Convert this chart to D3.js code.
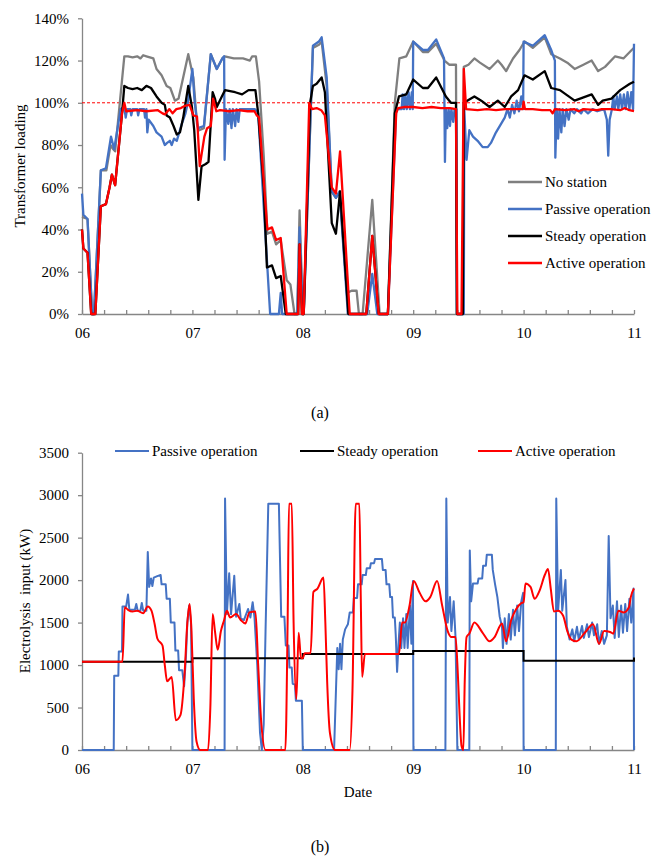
<!DOCTYPE html>
<html>
<head>
<meta charset="utf-8">
<script src="https://cdn.jsdelivr.net/npm/d3@7"></script>
<style>
  body { margin: 0; background: #fff; }
  text { font-family: "Liberation Serif", "Times New Roman", serif; fill: #000; }
</style>
</head>
<body>
<svg id="chart" width="664" height="858"></svg>
<script>
// x values are hours counted from day 06 00:00

var dayLabels = ["06", "07", "08", "09", "10", "11"]
var loadTicks = [0, 20, 40, 60, 80, 100, 120, 140]
var inputTicks = [0, 500, 1000, 1500, 2000, 2500, 3000, 3500]
var loadNames = ["No station", "Passive operation", "Steady operation", "Active operation"]
var inputNames = ["Passive operation", "Steady operation", "Active operation"]

// (a) transformer loading, %
var loadNoStation = [[0,46],[1.2,45],[2.2,0],[2.6,0],[4.1,68],[5.3,68],[6.2,80],[6.8,78],[7.2,77],[9.2,122],[10,122],[11,121.5],[12,122],[12.7,121],[13.3,122.5],[14,122],[15.5,121],[16.2,116],[17.3,113],[18.4,108],[19.2,107],[20.2,101],[21,102],[23.1,123],[24.2,112],[25,90],[25.5,87],[26.5,88],[28,123],[29.3,116],[30.5,121],[31,122],[33,121],[35,121],[36.5,120],[37,122],[37.8,122],[38.5,110],[39.5,75],[40.3,38],[41.3,39],[42.2,33],[43.2,35],[44.5,16],[45.3,14],[46.2,0],[46.8,0],[47.3,49],[48,0],[48.2,0],[50.2,126],[51.5,127.5],[52.1,129],[53.2,108],[54.3,58],[55.2,55],[56,58],[57.6,10],[58.6,11],[59.7,11],[60.2,0],[61,0],[63.1,54],[64.7,0],[66.5,0],[68,100],[69,121],[70.5,122],[72,129],[74.1,124],[75.2,124],[77,128],[78.8,120],[79.9,118],[81.3,118],[81.5,0],[82.8,0],[83,117],[84,118],[85.3,121],[86.5,119],[88.6,116],[90.4,120],[91.2,118],[92.2,115],[93.7,121],[95.1,125],[96.2,129],[98,126],[100.6,131],[102,123],[103.9,121],[105.5,119],[107.1,116],[109,118],[110.8,120],[112.2,115],[113.7,117],[115.9,122],[117.7,121],[119.5,125],[120,126]]

var loadPassive = [[0,57],[0.3,47],[1.2,45],[2.2,0],[2.6,0],[4.1,68],[5.2,69],[6.3,84],[7,78],[8.4,97],[9.2,98],[9.5,93],[9.8,97],[10.5,97],[10.7,94],[11,97],[12,97],[12.2,94],[12.5,97],[13.5,97],[13.7,93],[14,97],[14.2,86],[14.5,92],[15.5,89],[16.2,86],[17.3,84],[18,80],[18.5,81],[19.1,82],[19.5,80],[20,83],[20.6,82],[21.7,90],[22.5,95],[23,100],[24,116],[24.5,100],[25.2,88],[26.5,89],[28,123],[29.3,116],[30.5,121],[30.9,122],[31,73],[31.3,97],[31.8,90],[32.1,97],[32.5,88],[32.8,97],[33.3,89],[33.6,97],[34,91],[34.3,97],[37.6,97],[38.3,95],[40.9,0],[42.8,0],[43.2,10],[43.5,0],[46.8,0],[47.3,41],[48,0],[48.2,0],[50.2,127],[51.5,129],[52.1,131],[53.2,112],[54.3,58],[55.2,55],[56,58],[57.8,0],[62,0],[63.1,19],[64.2,0],[66.5,0],[68.3,97],[69.5,97],[69.7,104],[70,97],[70.3,104],[70.6,97],[71,105],[71.3,97],[71.7,105],[71.9,97],[72,129],[74.1,125],[75.2,125],[77,130],[78.7,121],[78.9,72],[79.1,97],[79.4,88],[79.7,97],[80,89],[80.3,97],[80.7,91],[81,97],[81.4,97],[81.5,0],[83,0],[83.1,97],[83.6,73],[84.2,87],[85,84],[86,82],[87.1,79],[88.2,79],[88.9,81],[90,86],[91.1,90],[91.9,93],[92.5,97],[93,93],[93.5,99],[94,95],[94.5,101],[95,96],[95.5,103],[95.9,97],[96,129],[98,127],[100.6,132],[102,125],[102.8,120],[102.9,74],[103.2,97],[103.5,83],[103.8,97],[104.2,86],[104.5,97],[104.9,89],[105.3,97],[105.8,92],[106.2,97],[107,95],[107.6,97],[108.5,95],[109,97],[110,95],[111,97],[112,96],[113.5,97],[114.1,92],[114.4,75],[114.7,92],[115.2,97],[115.5,103],[115.8,97],[116.3,103],[116.6,97],[117,104],[117.4,97],[117.8,104],[118.2,97],[118.6,105],[119,97],[119.4,105],[119.8,97],[120,128]]

var loadSteady = [[0,40],[0.3,31],[1.2,29],[2,0],[2.9,0],[4.1,51],[5.2,52],[6,60],[6.5,66],[7.2,61],[8.7,95],[9.2,108],[10,107],[11,106.5],[12,107],[13,106],[14,108],[15,107],[16.2,103],[17.3,100],[18,99],[18.4,94],[19.1,93],[19.9,89],[20.6,85],[21.3,86],[22,93],[23.1,108],[23.9,98],[24.4,87],[25.3,54],[26,70],[26.9,71],[27.5,72],[28.4,105],[28.9,102],[29.3,98],[30.4,103],[31.1,106],[33.3,105],[34.8,104],[36.2,106],[37.7,106],[38.3,95],[39.5,60],[40.2,22],[41.3,23],[42.2,17],[43.2,18],[44.3,0],[47,0],[47.3,33],[47.8,0],[48.2,0],[49.6,100],[50.2,108],[51,109],[52.1,112],[52.8,105],[54.3,43],[55.2,38],[56.1,58],[57.9,0],[61.8,0],[63.1,37],[64.5,0],[66.5,0],[68,95],[68.9,103],[70.5,104],[72,111],[74.1,107],[75.2,107],[77,112],[79.1,103],[80.2,100],[81.3,100],[81.5,0],[82.8,0],[83,100],[85.3,103],[86.8,101],[88.6,98],[90.4,101],[91.9,98],[93.3,103],[94.8,106],[96.2,113],[98,111],[100.6,115],[102,107],[103.9,106],[107.1,101],[110.8,104],[112.2,99],[113.2,101],[115.1,102],[117,106],[119.1,109],[120,110]]

var loadActive = [[0,40],[0.3,31],[1.2,29],[2,0],[2.9,0],[4.1,51],[5.2,52],[6,60],[6.5,66],[7.2,61],[8.7,95],[9.2,100],[9.6,96],[12,96.5],[14,96],[16.5,96.5],[17.5,95],[18,94.5],[19,97],[19.7,95],[20.5,97],[21.5,97.5],[22.3,98.5],[23.4,99],[24.2,94],[25,93.5],[25.6,70],[26.6,84],[27.2,88],[28,89],[28.5,102],[29.2,96],[30,96.5],[32,96],[34,96.5],[36,96],[37.5,96],[38,94],[38.5,93],[40.3,40],[41.3,41],[42.2,35],[43.2,36],[44.5,0],[47,0],[47.3,33],[47.8,0],[48.2,0],[49.4,100],[50,97],[51,97.5],[52,96.5],[52.8,94],[54.3,60],[55.2,57],[56.1,77],[58.2,0],[61.8,0],[63.1,37],[64.5,0],[66.5,0],[68.3,95],[68.7,97.5],[70,98],[72,98],[74,97.5],[76,98],[78,97.5],[80,97.5],[81.3,97],[81.6,0],[82.5,0],[83,116],[83.5,97],[86,96.5],[88,97],[90,96.5],[92,97],[94,97],[95.8,97],[96,100.5],[96.3,97],[98,97],[100,96.5],[101.8,96.5],[102.3,95],[102.8,97],[105,96.5],[107,97],[108,96],[109,97],[112,96.5],[113,97],[115,97],[117,96.5],[118,97.5],[119,96.5],[120,96]]

// (b) electrolysis input, kW
var inputPassive = [[0,0],[6.9,0],[7,875],[7.9,875],[8,1160],[8.7,1160],[8.8,1690],[9.6,1690],[10,1830],[10.3,1650],[11.5,1650],[11.8,1720],[12.1,1640],[12.7,1640],[13,1730],[13.3,1640],[14,1640],[14.3,2330],[14.6,1920],[15,2020],[15.3,1930],[15.6,2030],[16.5,2050],[17.1,2060],[17.3,1950],[18.2,1950],[18.4,1780],[19.1,1780],[19.3,1500],[20.1,1500],[20.3,1170],[20.9,1170],[21.1,940],[21.8,940],[22.2,750],[22.6,1100],[22.9,1500],[23.3,1700],[23.7,1500],[24,0],[31,0],[31.1,2960],[31.5,1600],[32,2080],[32.4,1600],[33.1,2050],[33.5,1570],[34.2,1720],[34.5,1550],[35.2,1530],[36.1,1660],[36.6,1560],[37.1,1740],[37.5,1560],[38.1,1000],[38.7,200],[39.1,0],[39.5,300],[39.9,1400],[40.5,2900],[42.8,2900],[43.3,1570],[44,1570],[44.3,1230],[44.9,1230],[45.1,970],[45.6,970],[45.8,780],[46.3,770],[46.5,580],[47.8,580],[48,0],[54.8,0],[55.5,1200],[55.8,950],[56.1,1250],[56.4,950],[56.7,1300],[57.2,1420],[57.8,1480],[58.2,1620],[58.9,1620],[59.1,1790],[59.8,1790],[60,1950],[60.8,1950],[61,2060],[61.7,2060],[61.9,2140],[62.6,2140],[62.8,2200],[63.5,2200],[63.7,2250],[65.2,2250],[65.4,2120],[66,2120],[66.2,1950],[66.8,1950],[67,1800],[67.4,1800],[67.6,1560],[68,1560],[68.2,1360],[68.5,920],[68.8,1240],[69.1,1500],[69.4,1200],[69.8,1550],[70.1,1200],[70.5,1600],[70.8,1200],[71.3,1700],[71.6,1250],[71.95,1990],[72.05,0],[79,0],[79.2,2960],[79.5,1500],[80,1800],[80.3,1400],[80.8,1750],[81.2,1330],[81.6,0],[84.2,0],[84.3,2350],[84.6,1750],[85,1960],[86,1960],[86.2,2020],[87,2020],[87.2,2170],[87.8,2170],[88,2300],[89.1,2300],[89.3,2120],[89.8,1950],[90.3,1800],[90.8,1570],[91.3,1450],[91.5,1200],[91.9,1550],[92.3,1250],[92.8,1600],[93.2,1300],[93.7,1650],[94.1,1350],[94.6,1700],[95,1400],[95.5,1750],[95.9,1850],[96,0],[103,0],[103.1,2960],[103.5,1640],[104.1,2120],[104.4,1640],[105.1,2000],[105.4,1450],[106,1300],[106.6,1420],[107,1280],[107.6,1450],[108,1300],[108.7,1460],[109.1,1320],[109.8,1480],[110.2,1330],[110.9,1500],[111.3,1350],[112,1480],[112.4,1250],[113,1400],[113.5,1250],[114.1,1350],[114.5,2520],[114.9,1550],[115.4,1700],[115.8,1320],[116.3,1750],[116.7,1330],[117.2,1700],[117.6,1380],[118.1,1720],[118.5,1400],[119,1780],[119.4,1500],[119.9,1900],[120,0]]

var inputSteadyDaily = [1040, 1080, 1130, 1165, 1050]
var inputSteadyLast = 1090

var inputActive = [[0,1040],[8.8,1040],[9.3,1680],[10,1650],[11,1630],[12,1640],[13.3,1610],[14.3,1690],[15.1,1640],[15.8,1480],[16.4,1310],[17.5,1230],[18,1000],[18.5,810],[19.5,860],[20.4,350],[21.4,410],[22.3,900],[22.9,1500],[23.4,1720],[23.8,1400],[24.3,600],[24.9,100],[25.7,0],[27.4,0],[27.9,500],[28.4,1600],[28.9,1400],[29.5,1180],[30.2,1400],[30.9,1530],[31.5,1640],[32.2,1560],[33.5,1600],[34.5,1530],[35.5,1490],[36.4,1620],[37.7,1630],[38.3,1000],[39,300],[39.9,0],[44.2,0],[44.7,1500],[45,2900],[45.6,2900],[46,1500],[46.6,600],[47.1,1380],[47.6,1080],[48,1080],[48.4,1140],[49.7,1140],[50.3,1860],[51.2,1900],[52.5,2030],[52.9,1500],[53.3,800],[53.9,200],[55,0],[58.2,0],[58.8,700],[59.5,2900],[60.3,2900],[60.6,1800],[60.9,860],[61.5,1130],[68.9,1130],[69.6,1500],[70.2,1500],[71.2,1700],[72.1,1990],[73.4,1850],[74.7,1750],[75.7,1800],[77.2,1990],[78.3,1700],[79.5,1400],[80.3,1330],[81.2,1330],[81.7,900],[82.1,400],[82.5,50],[82.9,0],[83.2,800],[83.6,1330],[84.2,1370],[85.3,1500],[87.1,1380],[88.6,1280],[89.7,1330],[91.3,1490],[92.2,1280],[93.3,1530],[94.4,1660],[95.5,1730],[96,1740],[96.4,1960],[97.5,1920],[98.4,1780],[99.5,1880],[100.6,2060],[101.3,2130],[101.9,1900],[102.6,1630],[103.5,1640],[104.6,1580],[105.5,1400],[106.4,1300],[107.5,1280],[109.3,1380],[111.1,1480],[112.4,1250],[113.5,1400],[114.8,1390],[115.5,1370],[116.6,1640],[117.8,1620],[118.9,1680],[119.3,1800],[120,1900]]

var axisColor = "#868686"
var svg = d3.select("#chart")

// x ticks every 4.8 h (5 per day), labelled at each day
var xTickValues = d3.range(26).map(i => i * 4.8)

function styleAxis (g) {
    g.select(".domain").attr("stroke", axisColor).attr("stroke-width", 1.3)
    g.selectAll(".tick line").attr("stroke", axisColor).attr("stroke-width", 1.3)
    g.selectAll(".tick text").attr("font-size", "15px").attr("font-family", "Liberation Serif, serif")
}

function drawAxes (x, y, yTicks, yFormat) {
    svg.append("g")
        .attr("transform", `translate(0,${y.range()[0]})`)
        .call(d3.axisBottom(x)
            .tickValues(xTickValues)
            .tickSizeInner(-4).tickSizeOuter(0).tickPadding(13)
            .tickFormat((d, i) => i % 5 == 0 ? dayLabels[i / 5] : ""))
        .call(styleAxis)
    svg.append("g")
        .attr("transform", `translate(${x.range()[0]},0)`)
        .call(d3.axisLeft(y).tickValues(yTicks).tickSizeInner(4).tickSizeOuter(0).tickPadding(9).tickFormat(yFormat))
        .call(styleAxis)
}

// ---------------- (a) ----------------
var xA = d3.scaleLinear().domain([0, 120]).range([82, 634])
var yA = d3.scaleLinear().domain([0, 140]).range([314, 18.3])

drawAxes(xA, yA, loadTicks, d => d + "%")

svg.append("line")
    .attr("x1", xA(0)).attr("x2", xA(120))
    .attr("y1", yA(100)).attr("y2", yA(100))
    .attr("stroke", "#ff0000").attr("stroke-width", 1)
    .attr("stroke-dasharray", "3,2")

var lineA = d3.line().x(d => xA(d[0])).y(d => yA(d[1]))
var loadSeries = [loadNoStation, loadPassive, loadSteady, loadActive]
var colors = ["#7f7f7f", "#4472c4", "#000000", "#ff0000"]

loadSeries.forEach((s, i) => {
    svg.append("path")
        .attr("d", lineA(s))
        .attr("fill", "none")
        .attr("stroke", colors[i])
        .attr("stroke-width", 2.3)
        .attr("stroke-linejoin", "round")
})

svg.append("text")
    .attr("transform", `translate(25,166) rotate(-90)`)
    .attr("text-anchor", "middle")
    .attr("font-size", "15px")
    .text("Transformer loading")

var legA = svg.append("g")
loadNames.forEach((name, i) => {
    var yy = 182 + i * 27
    legA.append("line")
        .attr("x1", 508).attr("x2", 542).attr("y1", yy).attr("y2", yy)
        .attr("stroke", colors[i]).attr("stroke-width", 2.3)
    legA.append("text")
        .attr("x", 545).attr("y", yy + 5)
        .attr("font-size", "15px")
        .text(name)
})

svg.append("text")
    .attr("x", 320).attr("y", 418)
    .attr("text-anchor", "middle")
    .attr("font-size", "16px")
    .text("(a)")

// ---------------- (b) ----------------
var xB = d3.scaleLinear().domain([0, 120]).range([82, 634])
var yB = d3.scaleLinear().domain([0, 3500]).range([750, 452.7])

drawAxes(xB, yB, inputTicks, d => d)

var lineB = d3.line().x(d => xB(d[0])).y(d => yB(d[1]))
var smoothB = d3.line().x(d => xB(d[0])).y(d => yB(d[1])).curve(d3.curveMonotoneX)

// steady input: one value per day, plus the last sample
var steadyPoints = []
inputSteadyDaily.forEach((v, i) => {
    steadyPoints.push([i * 24, v])
    steadyPoints.push([(i + 1) * 24, v])
})
steadyPoints.push([120, inputSteadyLast])

var colorsB = ["#4472c4", "#000000", "#ff0000"]

svg.append("path").attr("d", lineB(inputPassive))
    .attr("fill", "none").attr("stroke", colorsB[0]).attr("stroke-width", 2).attr("stroke-linejoin", "round")
svg.append("path").attr("d", lineB(steadyPoints))
    .attr("fill", "none").attr("stroke", colorsB[1]).attr("stroke-width", 2)
svg.append("path").attr("d", smoothB(inputActive))
    .attr("fill", "none").attr("stroke", colorsB[2]).attr("stroke-width", 2).attr("stroke-linejoin", "round")

svg.append("text")
    .attr("transform", `translate(30,601) rotate(-90)`)
    .attr("text-anchor", "middle")
    .attr("font-size", "15px")
    .style("white-space", "pre")
    .text("Electrolysis  input (kW)")

var legBx = [115, 300, 478]
inputNames.forEach((name, i) => {
    svg.append("line")
        .attr("x1", legBx[i]).attr("x2", legBx[i] + 34).attr("y1", 451).attr("y2", 451)
        .attr("stroke", colorsB[i]).attr("stroke-width", 2)
    svg.append("text")
        .attr("x", legBx[i] + 37).attr("y", 456)
        .attr("font-size", "15px")
        .text(name)
})

svg.append("text")
    .attr("x", 358).attr("y", 797)
    .attr("text-anchor", "middle")
    .attr("font-size", "15px")
    .text("Date")

svg.append("text")
    .attr("x", 320).attr("y", 852)
    .attr("text-anchor", "middle")
    .attr("font-size", "16px")
    .text("(b)")
</script>
</body>
</html>
